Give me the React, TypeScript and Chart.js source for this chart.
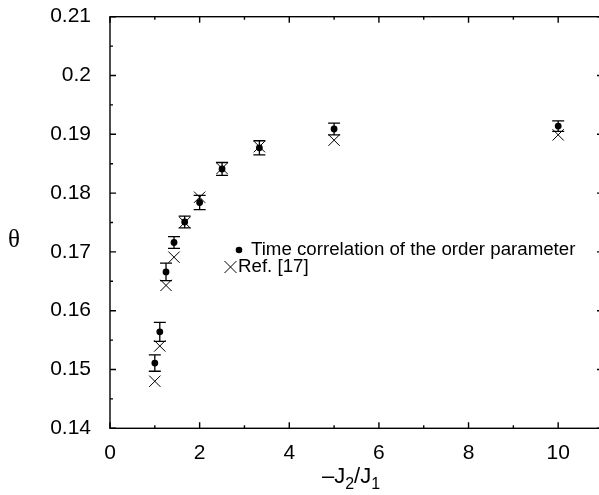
import React, { useEffect, useRef } from "react";
import { Chart, registerables } from "chart.js";

Chart.register(...registerables);

// -J2/J1 values
const ratios = [1, 10 / 9, 1.25, 10 / 7, 5 / 3, 2, 2.5, 10 / 3, 5, 10];
// Time correlation of the order parameter (dots with error bars)
const timeCorr = [0.1511, 0.1564, 0.1666, 0.1716, 0.1751, 0.1784, 0.1841, 0.1877, 0.1909, 0.1914];
const timeCorrErr = [0.0014, 0.0016, 0.0015, 0.001, 0.001, 0.0012, 0.0011, 0.0012, 0.001, 0.0009];
// Ref. [17] (crosses)
const ref17 = [0.148, 0.154, 0.1643, 0.1691, 0.175, 0.1793, 0.1842, 0.1879, 0.189, 0.1899];

const xMajorTicks = [0, 2, 4, 6, 8, 10];
const xMinorTicks = [1, 3, 5, 7, 9];
const yMajorTicks = [0.14, 0.15, 0.16, 0.17, 0.18, 0.19, 0.2, 0.21];
const yMinorTicks = [0.145, 0.155, 0.165, 0.175, 0.185, 0.195, 0.205];
const legendLabels = ["Time correlation of the order parameter", "Ref. [17]"];
const xTitleParts = ["\u2013J", "2", "/J", "1"];
const yTitle = "\u03B8";

const SANS = "'Liberation Sans', Arial, Helvetica, sans-serif";
const SERIF = "'Liberation Serif', 'Times New Roman', serif";

const decorPlugin = {
  id: "decor",
  afterDatasetsDraw(chart: any) {
    const ctx = chart.ctx;
    const xs = chart.scales.x;
    const ys = chart.scales.y;
    const { left, right, top, bottom } = chart.chartArea;
    ctx.save();
    ctx.strokeStyle = "#000";
    ctx.fillStyle = "#000";

    // error bars
    ctx.lineWidth = 1.3;
    ratios.forEach((r, i) => {
      const px = xs.getPixelForValue(r);
      const y1 = ys.getPixelForValue(timeCorr[i] + timeCorrErr[i]);
      const y2 = ys.getPixelForValue(timeCorr[i] - timeCorrErr[i]);
      const cw = 6;
      ctx.beginPath();
      ctx.moveTo(px, y1);
      ctx.lineTo(px, y2);
      ctx.moveTo(px - cw, y1);
      ctx.lineTo(px + cw, y1);
      ctx.moveTo(px - cw, y2);
      ctx.lineTo(px + cw, y2);
      ctx.stroke();
    });

    // frame
    ctx.lineWidth = 1.4;
    ctx.strokeRect(left, top, right - left, bottom - top);

    // ticks (inward)
    const maj = 6;
    const min = 3;
    ctx.beginPath();
    xMajorTicks.forEach((v) => {
      const p = xs.getPixelForValue(v);
      ctx.moveTo(p, bottom);
      ctx.lineTo(p, bottom - maj);
      ctx.moveTo(p, top);
      ctx.lineTo(p, top + maj);
    });
    xMinorTicks.forEach((v) => {
      const p = xs.getPixelForValue(v);
      ctx.moveTo(p, bottom);
      ctx.lineTo(p, bottom - min);
      ctx.moveTo(p, top);
      ctx.lineTo(p, top + min);
    });
    yMajorTicks.forEach((v) => {
      const p = ys.getPixelForValue(v);
      ctx.moveTo(left, p);
      ctx.lineTo(left + maj, p);
      ctx.moveTo(right, p);
      ctx.lineTo(right - maj, p);
    });
    yMinorTicks.forEach((v) => {
      const p = ys.getPixelForValue(v);
      ctx.moveTo(left, p);
      ctx.lineTo(left + min, p);
      ctx.moveTo(right, p);
      ctx.lineTo(right - min, p);
    });
    ctx.stroke();

    // legend
    ctx.font = `18.7px ${SANS}`;
    ctx.textBaseline = "middle";
    ctx.textAlign = "left";
    ctx.beginPath();
    ctx.arc(239, 250, 3.3, 0, Math.PI * 2);
    ctx.fill();
    ctx.fillText(legendLabels[0], 251, 250);
    ctx.lineWidth = 1;
    ctx.beginPath();
    ctx.moveTo(224.5, 261);
    ctx.lineTo(236.5, 273);
    ctx.moveTo(236.5, 261);
    ctx.lineTo(224.5, 273);
    ctx.stroke();
    ctx.fillText(legendLabels[1], 238, 267);

    // y title
    ctx.font = `25px ${SERIF}`;
    ctx.textAlign = "center";
    ctx.fillText(yTitle, 14, 240);

    // x title with subscripts
    const big = `22px ${SANS}`;
    const small = `16px ${SANS}`;
    const widths = xTitleParts.map((t, i) => {
      ctx.font = i % 2 === 0 ? big : small;
      return ctx.measureText(t).width;
    });
    const total = widths.reduce((a, b) => a + b, 0);
    let cx = 351 - total / 2;
    const base = 483;
    ctx.textAlign = "left";
    ctx.textBaseline = "alphabetic";
    xTitleParts.forEach((t, i) => {
      ctx.font = i % 2 === 0 ? big : small;
      ctx.fillText(t, cx, i % 2 === 0 ? base : base + 6);
      cx += widths[i];
    });
    ctx.restore();
  },
};

export default function App() {
  const ref = useRef<HTMLCanvasElement | null>(null);
  useEffect(() => {
    if (!ref.current) return;
    const chart = new Chart(ref.current, {
      type: "scatter",
      data: {
        datasets: [
          {
            label: legendLabels[0],
            data: ratios.map((x, i) => ({ x, y: timeCorr[i] })),
            pointStyle: "circle",
            pointRadius: 3.4,
            backgroundColor: "#000",
            borderColor: "#000",
            borderWidth: 0,
          },
          {
            label: legendLabels[1],
            data: ratios.map((x, i) => ({ x, y: ref17[i] })),
            pointStyle: "crossRot",
            pointRadius: 8,
            backgroundColor: "#000",
            borderColor: "#000",
            borderWidth: 1,
          },
        ],
      },
      options: {
        responsive: false,
        animation: false,
        events: [],
        layout: { padding: { left: 0, top: 16.7, right: 17, bottom: 0 } },
        plugins: { legend: { display: false }, tooltip: { enabled: false } },
        scales: {
          x: {
            type: "linear",
            min: 0,
            max: 11,
            afterFit: (s: any) => {
              s.height = 66.7;
              s.paddingLeft = 0;
              s.paddingRight = 0;
            },
            afterBuildTicks: (s: any) => {
              s.ticks = xMajorTicks.map((v) => ({ value: v }));
            },
            grid: { display: false, drawTicks: false },
            border: { display: false },
            ticks: {
              padding: 12,
              color: "#000",
              font: { family: SANS, size: 21 },
              maxRotation: 0,
              autoSkip: false,
              callback: (v: any) => String(v),
            },
          },
          y: {
            type: "linear",
            min: 0.14,
            max: 0.21,
            afterFit: (s: any) => {
              s.width = 110;
              s.paddingTop = 0;
              s.paddingBottom = 0;
            },
            afterBuildTicks: (s: any) => {
              s.ticks = yMajorTicks.map((v) => ({ value: v }));
            },
            grid: { display: false, drawTicks: false },
            border: { display: false },
            ticks: {
              padding: 19,
              color: "#000",
              font: { family: SANS, size: 21 },
              autoSkip: false,
              callback: (v: any) => String(Number(Number(v).toFixed(3))),
            },
          },
        },
      },
      plugins: [decorPlugin],
    });
    return () => chart.destroy();
  }, []);
  return (
    <div
      style={{
        position: "fixed",
        left: 0,
        top: 0,
        width: 599,
        height: 495,
        overflow: "hidden",
        background: "#fff",
      }}
    >
      <canvas ref={ref} width={620} height={495} style={{ width: 620, height: 495, display: "block" }} />
    </div>
  );
}
